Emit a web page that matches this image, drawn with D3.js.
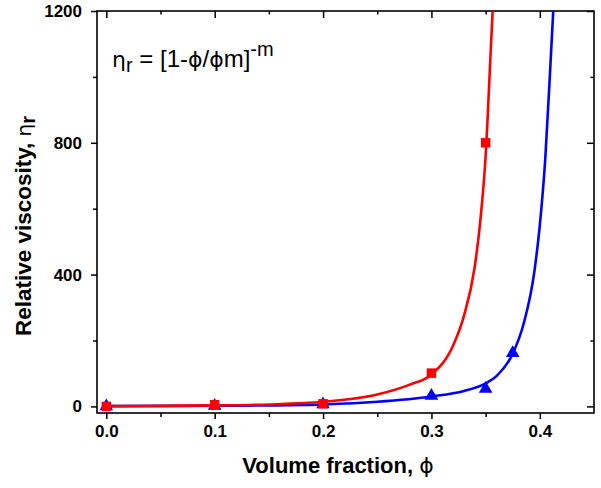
<!DOCTYPE html>
<html><head><meta charset="utf-8">
<script src="https://cdn.jsdelivr.net/npm/d3@7"></script>
<style>body{margin:0;background:#fff}svg{display:block}</style></head>
<body><svg id="c" width="601" height="488"></svg>
<script>
// ---- data ----
const xTickValues = [0, 0.1, 0.2, 0.3, 0.4];
const xTickLabels = ["0.0", "0.1", "0.2", "0.3", "0.4"];
const xMinorTicks = [0.05, 0.15, 0.25, 0.35];
const yTickValues = [0, 400, 800, 1200];
const yTickLabels = ["0", "400", "800", "1200"];
const yMinorTicks = [200, 600, 1000];

// measured points
const redPhi = [0, 0.1, 0.2, 0.3, 0.35];
const redEta = [0, 5, 8, 101, 800];
const bluePhi = [0, 0.1, 0.2, 0.3, 0.35, 0.375];
const blueEta = [0, 2, 6, 32, 53, 162];

// fitted curves
const redCurvePhi = [0, 0.05, 0.1, 0.15, 0.2, 0.25, 0.28, 0.3, 0.32, 0.33, 0.34, 0.345, 0.35, 0.355, 0.358];
const redCurveEta = [1, 1.5, 3, 6, 14, 36, 66, 97, 185, 275, 425, 560, 760, 1100, 1300];
const blueCurvePhi = [0, 0.1, 0.15, 0.2, 0.25, 0.3, 0.33, 0.35, 0.36, 0.375, 0.385, 0.395, 0.4, 0.405, 0.41, 0.414];
const blueCurveEta = [1, 2, 3, 6, 14, 30, 47, 70, 92, 160, 250, 410, 550, 750, 1050, 1300];

// ---- layout ----
const svg = d3.select("#c");
const L = 97, R = 594, T = 11, B = 413;
const x = d3.scaleLinear().domain([-0.0086, 0.45]).range([L, R]);
const y = d3.scaleLinear().domain([-20, 1200]).range([B, T]);
const font = "Arial, 'Liberation Sans', sans-serif";
const greek = "'DejaVu Sans', sans-serif";

svg.append("defs").append("clipPath").attr("id", "clip")
  .append("rect").attr("x", L).attr("y", T).attr("width", R - L).attr("height", B - T);

function styleAxis(g) {
  g.select(".domain").remove();
  g.selectAll("line").attr("stroke", "#000").attr("stroke-width", 1.5);
  g.selectAll("text").attr("font-family", font).attr("font-weight", "bold")
    .attr("font-size", 17).attr("fill", "#000");
}

// bottom axis
svg.append("g").attr("transform", `translate(0,${B})`)
  .call(d3.axisBottom(x).tickValues(xTickValues).tickSize(6).tickPadding(6)
    .tickFormat((d, i) => xTickLabels[i])).call(styleAxis);
svg.append("g").attr("transform", `translate(0,${B})`)
  .call(d3.axisBottom(x).tickValues(xMinorTicks).tickSize(4).tickFormat("")).call(styleAxis);
// top axis (inward)
svg.append("g").attr("transform", `translate(0,${T})`)
  .call(d3.axisBottom(x).tickValues(xTickValues).tickSize(7).tickFormat("")).call(styleAxis);
svg.append("g").attr("transform", `translate(0,${T})`)
  .call(d3.axisBottom(x).tickValues(xMinorTicks).tickSize(3.5).tickFormat("")).call(styleAxis);
// left axis
svg.append("g").attr("transform", `translate(${L},0)`)
  .call(d3.axisLeft(y).tickValues(yTickValues).tickSize(6).tickPadding(9)
    .tickFormat((d, i) => yTickLabels[i])).call(styleAxis);
svg.append("g").attr("transform", `translate(${L},0)`)
  .call(d3.axisLeft(y).tickValues(yMinorTicks).tickSize(4).tickFormat("")).call(styleAxis);
// right axis (inward)
svg.append("g").attr("transform", `translate(${R},0)`)
  .call(d3.axisLeft(y).tickValues(yTickValues).tickSize(7).tickFormat("")).call(styleAxis);
svg.append("g").attr("transform", `translate(${R},0)`)
  .call(d3.axisLeft(y).tickValues(yMinorTicks).tickSize(3.5).tickFormat("")).call(styleAxis);

// frame
svg.append("rect").attr("x", L).attr("y", T).attr("width", R - L).attr("height", B - T)
  .attr("fill", "none").attr("stroke", "#000").attr("stroke-width", 1.6);

// curves
const line = d3.line().x(d => x(d[0])).y(d => y(d[1])).curve(d3.curveMonotoneX);
const plot = svg.append("g").attr("clip-path", "url(#clip)");
function series(cphi, ceta, phi, eta, color, sym, size) {
  plot.append("path").datum(cphi.map((p, i) => [p, ceta[i]]))
    .attr("d", line).attr("fill", "none").attr("stroke", color).attr("stroke-width", 2.6);
  svg.append("g").selectAll("path").data(phi.map((p, i) => [p, eta[i]])).join("path")
    .attr("transform", d => `translate(${x(d[0])},${y(d[1])})`)
    .attr("d", d3.symbol(sym, size)).attr("fill", color);
}
series(blueCurvePhi, blueCurveEta, bluePhi, blueEta, "#0000ff", d3.symbolTriangle, 80);
series(redCurvePhi, redCurveEta, redPhi, redEta, "#ff0000", d3.symbolSquare, 90);

// annotation
const ann = svg.append("text").attr("x", 112).attr("y", 67).attr("font-family", font)
  .attr("font-size", 24).attr("fill", "#000");
ann.append("tspan").attr("font-family", greek).attr("font-size", 22).text("η");
ann.append("tspan").attr("font-size", 20).attr("dy", 5).text("r");
ann.append("tspan").attr("dy", -5).text(" = [1-");
ann.append("tspan").attr("font-family", greek).attr("font-size", 22).text("ϕ");
ann.append("tspan").text("/");
ann.append("tspan").attr("font-family", greek).attr("font-size", 22).text("ϕ");
ann.append("tspan").text("m]");
ann.append("tspan").attr("font-size", 20).attr("dy", -11).text("-m");

// x title
const xt = svg.append("text").attr("x", 338).attr("y", 473).attr("text-anchor", "middle")
  .attr("font-family", font).attr("font-weight", "bold").attr("font-size", 22);
xt.append("tspan").text("Volume fraction, ");
xt.append("tspan").attr("font-weight", "normal").attr("font-family", greek).text("ϕ");

// y title
const yt = svg.append("text").attr("transform", "translate(31,226) rotate(-90)")
  .attr("text-anchor", "middle").attr("font-family", font).attr("font-size", 22.5);
yt.append("tspan").attr("font-weight", "bold").text("Relative viscosity, ");
yt.append("tspan").attr("font-weight", "normal").attr("font-family", greek).attr("font-size", 20).text("η");
yt.append("tspan").attr("font-weight", "bold").attr("font-size", 20).attr("dy", 4).text("r");
</script></body></html>
